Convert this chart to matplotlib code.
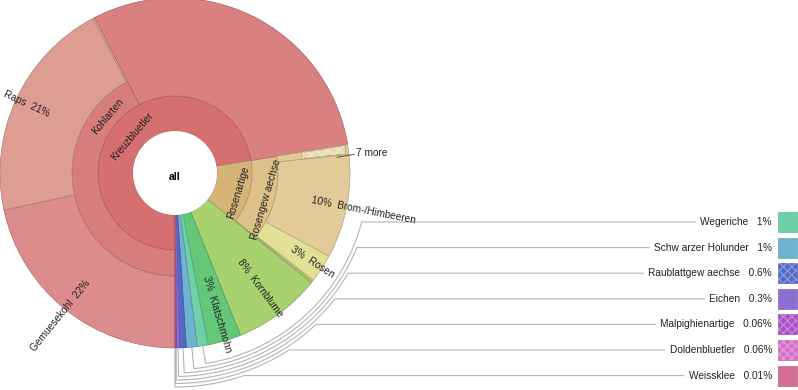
import numpy as np
import matplotlib
matplotlib.use("Agg")
import matplotlib.pyplot as plt
from matplotlib.patches import Wedge, Rectangle
from matplotlib.colors import to_rgb

plt.rcParams["font.family"] = ["Liberation Sans", "DejaVu Sans"]

# leaves, clockwise from 6 o'clock
leaf_names = ["Gemuesekohl", "Raps", "", "", "7 more", "Brom-/Himbeeren", "Rosen", "", "",
              "Kornblume", "Klatschmohn", "Wegeriche", "Schw arzer Holunder",
              "Raublattgew aechse", "Eichen", "Malpighienartige", "Doldenbluetler", "Weissklee"]
leaf_values = [21.6, 20.6, 0.2, 30.0, 0.9, 9.6, 2.6, 0.15, 0.15,
               8.1, 3.07, 1.0, 1.0, 0.6, 0.3, 0.06, 0.06, 0.01]
leaf_level1 = ["Kreuzbluetler"] * 4 + ["Rosenartige"] * 5 + [""] * 9
leaf_level2 = ["Kohlarten"] * 3 + [""] + ["Rosengew aechse"] * 4 + [""] * 10
leaf_colors = ["#dc8c8c", "#de9d93", "#e0a898", "#d98080", "#e2cb98", "#e2cb98", "#e2e096",
               "#d6d28c", "#c8cd78", "#a8d270", "#64c878", "#6ed0a8", "#6eb4d0",
               "#5569c8", "#8c6ed2", "#aa50c8", "#d46ec8", "#d46e96"]
hatched = ["Raublattgew aechse", "Malpighienartige", "Doldenbluetler"]

group_names = ["Kreuzbluetler", "Rosenartige", "Kohlarten", "Rosengew aechse"]
group_colors = ["#d67070", "#d6b478", "#d87d7d", "#ddc08a"]

# small leaves shown in the legend on the right
legend_names = leaf_names[11:]
legend_values = leaf_values[11:]
legend_colors = leaf_colors[11:]

CX, CY = 175, 217
R_HOLE, R1, R2, R_OUT = 42, 77, 103, 175


def darker(c, f=0.8):
    r, g, b = to_rgb(c)
    return (r * f, g * f, b * f)


def polar(r, a):
    t = np.radians(a)
    return CX + r * np.cos(t), CY + r * np.sin(t)


def fmt(v):
    return f"{v:.0f}%" if v >= 1 else f"{v:g}%"


fig = plt.figure(figsize=(7.98, 3.9), dpi=100)
ax = fig.add_axes([0, 0, 1, 1])
ax.set_xlim(0, 798)
ax.set_ylim(0, 390)
ax.axis("off")

vals = np.array(leaf_values)
ends = 270 - np.cumsum(vals) * 3.6
starts = ends + vals * 3.6
mids = (starts + ends) / 2

# inner rings
for level, r_in, r_out in [(leaf_level1, R_HOLE, R1), (leaf_level2, R1, R2)]:
    for name in dict.fromkeys(level):
        if not name:
            continue
        idx = [i for i, n in enumerate(level) if n == name]
        c = group_colors[group_names.index(name)]
        ax.add_patch(Wedge((CX, CY), r_out, ends[idx[-1]], starts[idx[0]], width=r_out - r_in,
                           facecolor=c, edgecolor=darker(c, 0.78), lw=0.5))

# leaves
for i, name in enumerate(leaf_names):
    if leaf_level2[i]:
        r_in = R2
    elif leaf_level1[i]:
        r_in = R1
    else:
        r_in = R_HOLE
    c = leaf_colors[i]
    ax.add_patch(Wedge((CX, CY), R_OUT, ends[i], starts[i], width=R_OUT - r_in,
                       facecolor=c, edgecolor=darker(c, 0.78), lw=0.5))

# "7 more" box
i = leaf_names.index("7 more")
ax.add_patch(Wedge((CX, CY), 172, ends[i] + 0.3, starts[i] - 0.2, width=44,
                   facecolor="#e9d9b0", edgecolor="#bba57c", lw=0.6))
ax.add_patch(Wedge((CX, CY), 172, ends[i] + 0.3, starts[i] - 0.2, width=44,
                   fill=False, hatch="xxx", edgecolor=(1, 1, 1, 0.4), lw=0))
x0, y0 = polar(163, mids[i] - 2.2)
x1, y1 = polar(180, mids[i] - 1.8)
ax.plot([x0, x1], [y0, y1], color="#555555", lw=0.7)
ax.text(x1 + 2, y1 + 1, "7 more", fontsize=7.3, ha="left", va="center", color="#222222")

# leaf labels (radial)
for i, name in enumerate(leaf_names):
    if not name or name == "7 more" or i >= 11:
        continue
    r0 = 139 if leaf_level2[i] else 108
    a = mids[i]
    x, y = polar(r0, a)
    if 90 < a % 360 < 270:
        ax.text(x, y, f"{name}  {fmt(leaf_values[i])}", rotation=a - 180, rotation_mode="anchor",
                ha="right", va="center", fontsize=7.3, color="#222222")
    else:
        ax.text(x, y, f"{fmt(leaf_values[i])}  {name}", rotation=a, rotation_mode="anchor",
                ha="left", va="center", fontsize=7.3, color="#222222")

# inner labels (tangential)
k = [i for i, n in enumerate(leaf_level1) if n == "Kreuzbluetler"]
r = [i for i, n in enumerate(leaf_level1) if n == "Rosenartige"]
rg = [i for i, n in enumerate(leaf_level2) if n == "Rosengew aechse"]
inner_labels = [
    ("Kreuzbluetler", (starts[k[0]] + ends[k[-1]]) / 2, 56),
    ("Kohlarten", 140, 88),
    ("Rosenartige", (starts[r[0]] + ends[r[-1]]) / 2 - 2, 66),
    ("Rosengew aechse", (starts[rg[0]] + ends[rg[-1]]) / 2 - 2, 95),
]
for text, a, rr in inner_labels:
    x, y = polar(rr, a)
    rot = a - 90 if 0 < a < 180 else a + 90
    ax.text(x, y, text, rotation=rot, rotation_mode="anchor", ha="center", va="center",
            fontsize=7.3, color="#222222")

ax.add_patch(plt.Circle((CX, CY), R_HOLE, facecolor="white", edgecolor="none"))
ax.text(CX, CY - 4, "all", fontsize=7.5, fontweight="bold", ha="center", va="center")

# legend with leader lines
renderer = fig.canvas.get_renderer()
for j, (name, v, c) in enumerate(zip(legend_names, legend_values, legend_colors)):
    y = 390 - (222 + j * 25.6)
    t = ax.text(772, y, f"{name}   {fmt(v)}", ha="right", va="center", fontsize=7.3, color="#222222")
    bb = t.get_window_extent(renderer)
    x_text = ax.transData.inverted().transform((bb.x0, bb.y0))[0]
    ax.add_patch(Rectangle((778, y - 10), 19, 20, facecolor=c, edgecolor=darker(c, 0.9), lw=0.5))
    if name in hatched:
        ax.add_patch(Rectangle((778, y - 10), 19, 20, fill=False, hatch="xxxx",
                               edgecolor=(1, 1, 1, 0.3), lw=0))
    i = 11 + j
    rad = 193 + j * 3.5
    a0 = mids[i]
    a1 = np.degrees(np.arcsin((y - CY) / rad))
    arc = np.linspace(a0, a1, 80)
    xs = [polar(R_OUT + 1, a0)[0]] + list(CX + rad * np.cos(np.radians(arc))) + [x_text - 5]
    ys = [polar(R_OUT + 1, a0)[1]] + list(CY + rad * np.sin(np.radians(arc))) + [y]
    ax.plot(xs, ys, color="#b4b4b4", lw=0.8)

fig.savefig("out.png", dpi=100)
